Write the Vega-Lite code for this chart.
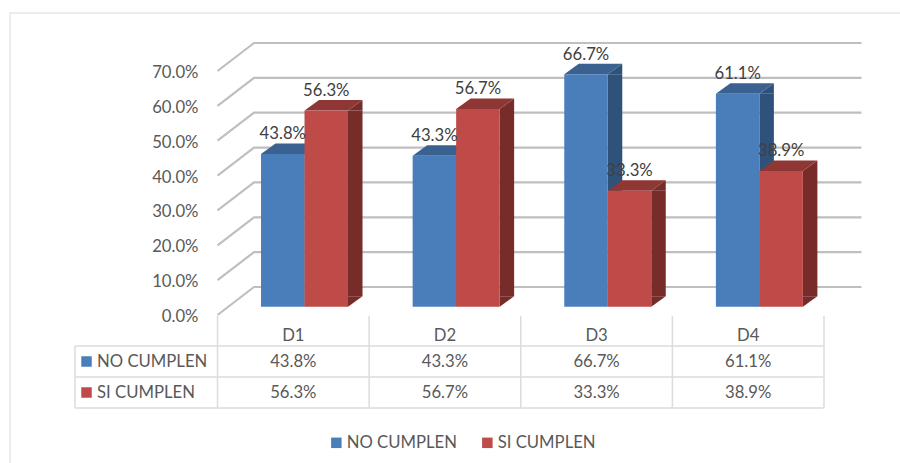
{
"$schema":"https://vega.github.io/schema/vega-lite/v6.json",
"width":900,"height":463,"padding":0,"autosize":"none","background":"white",
"config":{"view":{"stroke":null},"font":"Lato"},
"datasets":{
"vals":[
{"d":"D1","s":"NO CUMPLEN","v":0.438},{"d":"D2","s":"NO CUMPLEN","v":0.433},{"d":"D3","s":"NO CUMPLEN","v":0.667},{"d":"D4","s":"NO CUMPLEN","v":0.611},
{"d":"D1","s":"SI CUMPLEN","v":0.563},{"d":"D2","s":"SI CUMPLEN","v":0.567},{"d":"D3","s":"SI CUMPLEN","v":0.333},{"d":"D4","s":"SI CUMPLEN","v":0.389}],
"ticks":[{"t":0},{"t":0.1},{"t":0.2},{"t":0.3},{"t":0.4},{"t":0.5},{"t":0.6},{"t":0.7}],
"cols":[{"d":"D1"},{"d":"D2"},{"d":"D3"},{"d":"D4"}],
"rows":[{"s":"NO CUMPLEN"},{"s":"SI CUMPLEN"}],
"one":[{"item":"frame"}]
},
"encoding":{"x":{"field":"d","type":"nominal","title":null,"axis":null,"scale":{"type":"band","domain":["D1","D2","D3","D4"],"range":[217.5,824],"paddingInner":0,"paddingOuter":0}}},
"layer":[
{"encoding":{"y":{"type":"quantitative","scale":{"domain":[0,0.7],"range":[315,71]}}},
"layer":[
{"data":{"name":"ticks"},"mark":{"type":"point","filled":false,"opacity":1,"size":4,"shape":"M-75.8,0L-39.3,-28L568.2,-28","stroke":"#bfbfbf","strokeWidth":2.2},
 "encoding":{"x":{"datum":"D1"},"y":{"field":"t","axis":{"title":null,"orient":"left","offset":-203,"domain":false,"ticks":false,"grid":false,"values":[0,0.1,0.2,0.3,0.4,0.5,0.6,0.7],"format":"0.1%","labelPadding":5,"labelOffset":1.5,"labelFontSize":16.7,"labelColor":"#595959","labelFont":"Lato"}}}},
{"data":{"name":"vals"},"transform":[{"filter":"datum.s==='NO CUMPLEN'"}],"layer":[
 {"mark":{"type":"bar","width":14.5,"xOffset":18.45,"yOffset":-8.3,"y2Offset":-18.8,"color":"#2F527A"},"encoding":{"y":{"field":"v"},"y2":{"datum":0}}},
 {"mark":{"type":"point","filled":true,"opacity":1,"size":4,"xOffset":-32.3,"yOffset":-8.3,"shape":"M43.5,0L58,-10.5L58,0Z","color":"#2F527A"},"encoding":{"y":{"field":"v"}}},
 {"mark":{"type":"point","filled":true,"opacity":1,"size":4,"xOffset":-32.3,"yOffset":-8.3,"shape":"M43.5,0L58,-10.5L43.5,-10.5Z","color":"#2F527A"},"encoding":{"y":{"datum":0}}},
 {"mark":{"type":"point","filled":true,"opacity":1,"size":4,"xOffset":-32.3,"yOffset":-8.3,"shape":"M0,0L14.5,-10.5L58,-10.5L43.5,0Z","color":"#3A6190"},"encoding":{"y":{"field":"v"}}},
 {"mark":{"type":"bar","width":43.5,"xOffset":-10.55,"yOffset":-8.3,"y2Offset":-8.3},"encoding":{"y":{"field":"v"},"y2":{"datum":0},"color":{"field":"s","type":"nominal"}}}
]},
{"data":{"name":"vals"},"transform":[{"filter":"datum.s==='SI CUMPLEN'"}],"layer":[
 {"mark":{"type":"bar","width":14.5,"xOffset":61.95,"yOffset":-8.3,"y2Offset":-18.8,"color":"#772C2A"},"encoding":{"y":{"field":"v"},"y2":{"datum":0}}},
 {"mark":{"type":"point","filled":true,"opacity":1,"size":4,"xOffset":11.2,"yOffset":-8.3,"shape":"M43.5,0L58,-10.5L58,0Z","color":"#772C2A"},"encoding":{"y":{"field":"v"}}},
 {"mark":{"type":"point","filled":true,"opacity":1,"size":4,"xOffset":11.2,"yOffset":-8.3,"shape":"M43.5,0L58,-10.5L43.5,-10.5Z","color":"#772C2A"},"encoding":{"y":{"datum":0}}},
 {"mark":{"type":"point","filled":true,"opacity":1,"size":4,"xOffset":11.2,"yOffset":-8.3,"shape":"M0,0L14.5,-10.5L58,-10.5L43.5,0Z","color":"#8E3735"},"encoding":{"y":{"field":"v"}}},
 {"mark":{"type":"bar","width":43.5,"xOffset":32.95,"yOffset":-8.3,"y2Offset":-8.3},"encoding":{"y":{"field":"v"},"y2":{"datum":0},"color":{"field":"s","type":"nominal"}}},
 {"data":{"name":"vals"},"transform":[{"filter":"datum.s==='NO CUMPLEN'"}],"mark":{"type":"text","fontSize":16.7,"font":"Lato","color":"#404040","xOffset":-10.55,"yOffset":-28},"encoding":{"y":{"field":"v"},"text":{"field":"v","type":"quantitative","format":"0.1%"}}},
 {"mark":{"type":"text","fontSize":16.7,"font":"Lato","color":"#404040","xOffset":32.95,"yOffset":-28},"encoding":{"y":{"field":"v"},"text":{"field":"v","type":"quantitative","format":"0.1%"}}}
]}
]},
{"encoding":{"y":{"field":"s","type":"nominal","axis":null,"title":null,"scale":{"type":"point","padding":0,"domain":["D","NO CUMPLEN","SI CUMPLEN"],"range":[330.5,392.5]}}},
"layer":[
{"data":{"name":"one"},"mark":{"type":"point","filled":false,"opacity":1,"size":4,"stroke":"#dcdcdc","strokeWidth":1.5,"shape":"M-218.3,15.5L530.2,15.5M-218.3,46.5L530.2,46.5M-218.3,77.5L530.2,77.5M-218.3,15.5L-218.3,77.5"},"encoding":{"x":{"datum":"D1"},"y":{"datum":"D"}}},
{"data":{"name":"one"},"mark":{"type":"point","filled":false,"opacity":1,"size":4,"stroke":"#e6e6e6","strokeWidth":1.5,"shape":"M-283.3,132.5L-283.3,-317.5L606.7,-317.5"},"encoding":{"x":{"datum":"D1"},"y":{"datum":"D"}}},
{"data":{"name":"cols"},"mark":{"type":"point","filled":false,"opacity":1,"size":4,"stroke":"#dcdcdc","strokeWidth":1.5,"shape":"M-75.8,-14.5L-75.8,77.5"},"encoding":{"y":{"datum":"D"}}},
{"data":{"name":"one"},"mark":{"type":"point","filled":false,"opacity":1,"size":4,"stroke":"#dcdcdc","strokeWidth":1.5,"shape":"M75.8,-14.5L75.8,77.5"},"encoding":{"x":{"datum":"D4"},"y":{"datum":"D"}}},
{"data":{"name":"cols"},"mark":{"type":"text","fontSize":16.7,"font":"Lato","color":"#595959","yOffset":5},"encoding":{"y":{"datum":"D"},"text":{"field":"d"}}},
{"data":{"name":"vals"},"mark":{"type":"text","fontSize":16.7,"font":"Lato","color":"#595959"},"encoding":{"text":{"field":"v","type":"quantitative","format":"0.1%"}}},
{"data":{"name":"rows"},"mark":{"type":"text","fontSize":16.7,"font":"Lato","color":"#595959","align":"left","xOffset":-196.3},"encoding":{"x":{"datum":"D1"},"text":{"field":"s"}}},
{"data":{"name":"rows"},"mark":{"type":"point","shape":"square","filled":true,"opacity":1,"size":110,"xOffset":-206.8},"encoding":{"x":{"datum":"D1"},"color":{"field":"s","type":"nominal","title":null,"scale":{"domain":["NO CUMPLEN","SI CUMPLEN"],"range":["#4A7EBB","#BE4B48"]},"legend":{"orient":"none","legendX":328,"legendY":434,"direction":"horizontal","symbolType":"square","symbolSize":110,"labelFontSize":16.7,"labelFont":"Lato","labelColor":"#595959","title":null,"columnPadding":22,"labelOffset":2,"symbolStrokeWidth":0}}}}
]}
],
"resolve":{"scale":{"y":"independent"}}
}
